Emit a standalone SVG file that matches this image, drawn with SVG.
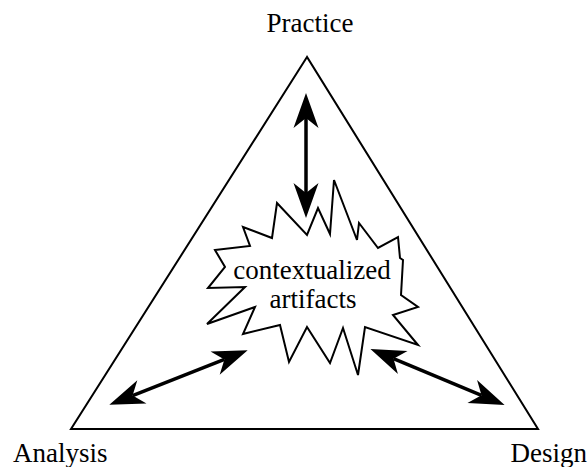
<svg xmlns="http://www.w3.org/2000/svg" width="588" height="467" viewBox="0 0 588 467">
<style>
.lbl{font-family:"Liberation Serif","Times New Roman",serif;font-size:27px;fill:#000}
.shape{fill:#fff;stroke:#000;stroke-width:2;stroke-linejoin:miter}
.arr{fill:none;stroke:#000;stroke-width:3.5}
</style>
<defs>
<marker id="stealth" markerUnits="userSpaceOnUse" markerWidth="40" markerHeight="30" viewBox="-10 -12 32 24" refX="0" refY="0" orient="auto-start-reverse">
<path d="M20,0 L-8,-10 L0,0 L-8,10 Z" fill="#000"/>
</marker>
</defs>
<rect width="588" height="467" fill="#fff"/>
<g id="triangle">
<polygon class="shape" points="307,57 71,429 538,429"/>
</g>
<g id="practice"><text class="lbl" x="310" y="32" text-anchor="middle">Practice</text></g>
<g id="analysis"><text class="lbl" x="13" y="462">Analysis</text></g>
<g id="design"><text class="lbl" x="587" y="462" text-anchor="end">Design</text></g>
<g id="artifacts">
<polygon class="shape" points="215,250 250,246 243,227 272,238 277,203 307,235 318,208 330,234 334,180 357,240 359,223 378,248 398,237 400,258 403,260 401,295 418,307 393,315 418,345 365,327 358,375 343,328 330,363 307,327 289,362 280,325 243,334 255,307 207,324 245,287 208,288 225,267"/>
<text class="lbl" x="312" y="279" text-anchor="middle">contextualized</text>
<text class="lbl" x="313" y="308" text-anchor="middle">artifacts</text>
</g>
<g id="connectors">
<line class="arr" x1="306" y1="118" x2="306" y2="193" marker-start="url(#stealth)" marker-end="url(#stealth)"/>
<line class="arr" x1="132.6" y1="395.6" x2="224.4" y2="359.4" marker-start="url(#stealth)" marker-end="url(#stealth)"/>
<line class="arr" x1="393.5" y1="358.7" x2="481.5" y2="395.3" marker-start="url(#stealth)" marker-end="url(#stealth)"/>
</g>
</svg>
